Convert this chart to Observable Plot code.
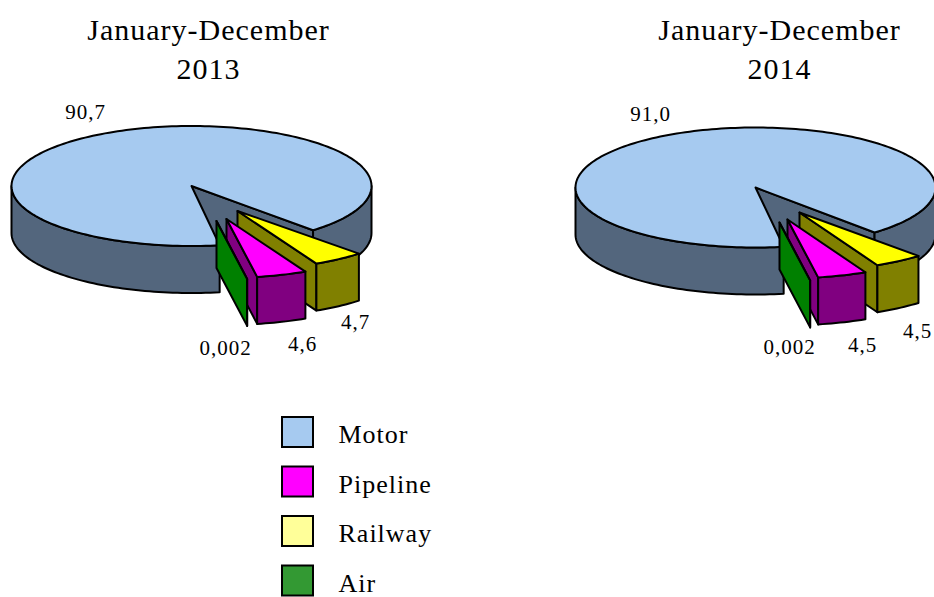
<!DOCTYPE html>
<html><head><meta charset="utf-8">
<script src="https://cdn.jsdelivr.net/npm/d3@7"></script>
<script src="https://cdn.jsdelivr.net/npm/@observablehq/plot@0.6"></script>
<style>html,body{margin:0;padding:0;background:#fff;overflow:hidden}</style>
</head><body><div id="chart"></div>
<script>
// Data
const modes = ["Motor", "Railway", "Pipeline", "Air"];
const values2013 = [90.7, 4.7, 4.6, 0.002];
const values2014 = [91.0, 4.5, 4.5, 0.002];
const labels2013 = ["90,7", "4,7", "4,6", "0,002"];
const labels2014 = ["91,0", "4,5", "4,5", "0,002"];
const titleLine1 = "January-December";
const years = ["2013", "2014"];
const legendLabels = ["Motor", "Pipeline", "Railway", "Air"];

// Style
const legendColors = ["#a6caf0", "#ff00ff", "#ffff99", "#339933"];
const topColors = {Motor: "#a6caf0", Railway: "#ffff00", Pipeline: "#ff00ff", Air: "#008000"};
const sideColors = {Motor: "#53667d", Railway: "#808000", Pipeline: "#800080", Air: "#008000"};
const serif = "Liberation Serif";

// Layout of each pie (screen layout, not data)
const rx = 180, ry = 60, depth = 47, startAngle = 80, motorTwist = 1, explodedScale = 0.98;
const pies = [
  {cx: 191, cy: 185.5, values: values2013, labels: labels2013, year: years[0], titleX: 208,
   explode: {Railway: [46, 25], Pipeline: [35, 33], Air: [25, 35]},
   labelPos: [[85, 112], [355, 322], [302, 344], [225, 348]]},
  {cx: 755, cy: 187, values: values2014, labels: labels2014, year: years[1], titleX: 779,
   explode: {Railway: [44, 25], Pipeline: [32, 32], Air: [24, 35]},
   labelPos: [[650, 114], [917, 331], [862, 345], [789, 347]]}
];

const rad = d => d * Math.PI / 180;
function arcPts(cx, cy, a0, a1, k = 1) {
  const n = Math.max(1, Math.ceil(Math.abs(a1 - a0) / 1.5)), out = [];
  for (let i = 0; i <= n; i++) {
    const a = rad(a0 + (a1 - a0) * i / n);
    out.push({x: cx + k * rx * Math.cos(a), y: cy + k * ry * Math.sin(a)});
  }
  return out;
}
const drop = pts => pts.map(p => ({x: p.x, y: p.y + depth})).reverse();
const shapes = [];
const add = (pts, fill) => shapes.push(Plot.line(pts, {
  x: "x", y: "y", fill, stroke: "black", strokeWidth: 2, curve: "linear-closed", strokeLinejoin: "round"
}));

for (const pie of pies) {
  const total = d3.sum(pie.values);
  let a = startAngle;
  pie.values.forEach((v, i) => {
    const mode = modes[i], a0 = a, a1 = a + v / total * 360;
    a = a1;
    const off = pie.explode[mode] || [0, 0];
    const cx = pie.cx + off[0], cy = pie.cy + off[1];
    const apex = {x: cx, y: cy};
    const side = sideColors[mode], top = topColors[mode];
    if (mode === "Motor") {
      const m0 = a0 + motorTwist, m1 = a1 + motorTwist;
      // inner wall of the gap
      const wall = [apex, arcPts(cx, cy, m1, m1)[0]];
      add(wall.concat(drop(wall)), side);
      // outer side, only the parts facing the viewer
      const s1 = arcPts(cx, cy, m1, 360);
      add(s1.concat(drop(s1)), side);
      const s2 = arcPts(cx, cy, m0, 180);
      add(s2.concat(drop(s2)), side);
      add([apex].concat(arcPts(cx, cy, m0, m1)), top);
    } else {
      const wall = [apex, arcPts(cx, cy, a1, a1, explodedScale)[0]];
      add(wall.concat(drop(wall)), side);
      const s = arcPts(cx, cy, a0, a1, explodedScale);
      add(s.concat(drop(s)), side);
      add([apex].concat(s), top);
    }
  });
}

const pieLabels = pies.flatMap(p => p.labels.map((t, i) => ({t, x: p.labelPos[i][0], y: p.labelPos[i][1]})));
const titles = pies.flatMap(p => [
  {t: titleLine1, x: p.titleX, y: 30},
  {t: p.year, x: p.titleX, y: 69}
]);
const legend = legendLabels.map((t, i) => ({t, color: legendColors[i], y: 417 + i * 49.5}));

const plot = Plot.plot({
  width: 934, height: 597,
  marginTop: 0, marginRight: 0, marginBottom: 0, marginLeft: 0,
  x: {domain: [0, 934], range: [0, 934], axis: null},
  y: {domain: [0, 597], range: [0, 597], axis: null},
  style: {background: "#fff", fontFamily: serif, letterSpacing: "1px"},
  marks: [
    ...shapes,
    Plot.text(titles, {x: "x", y: "y", text: "t", fontSize: 30, fontFamily: serif, fill: "#000"}),
    Plot.text(pieLabels, {x: "x", y: "y", text: "t", fontSize: 21, fontFamily: serif, fill: "#000"}),
    Plot.rect(legend, {x1: () => 282, x2: () => 313, y1: "y", y2: d => d.y + 30, fill: "color", stroke: "black", strokeWidth: 2}),
    Plot.text(legend, {x: () => 338, y: d => d.y + 17.5, text: "t", textAnchor: "start", fontSize: 26, fontFamily: serif, fill: "#000"})
  ],
  color: {type: "identity"}
});
document.getElementById("chart").appendChild(plot);
</script>
</body></html>
